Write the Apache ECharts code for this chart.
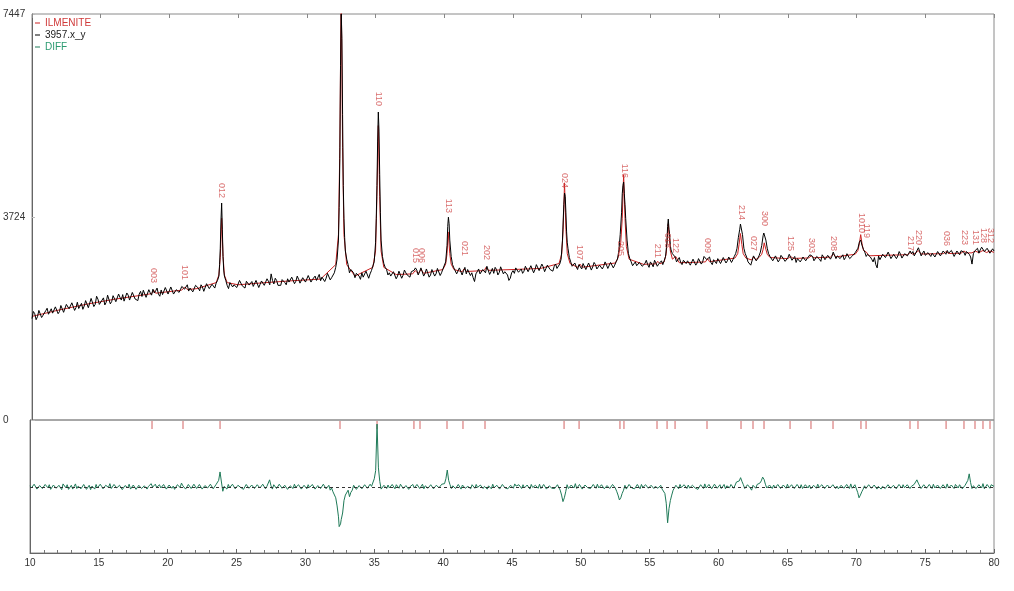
<!DOCTYPE html>
<html><head><meta charset="utf-8">
<script src="https://cdn.jsdelivr.net/npm/echarts/dist/echarts.min.js"></script>
<style>html,body{margin:0;padding:0;background:#fff}#c{width:1014px;height:591px}</style>
</head><body><div id="c"></div>
<script>
// ---------- DATA ----------
const xStart = 10, xStep = 0.2;   // sampling grid of the scan (2-theta); mid values sit halfway between
const obsY = [
1860,1950,1895,1985,1920,2005,1940,2040,1975,2050,
1990,2085,2010,2100,2035,2130,2060,2045,2140,2090,
2170,2090,2200,2120,2215,2145,2240,2160,2255,2175,
2270,2190,2250,2300,2215,2290,2235,2320,2255,2310,
2265,2345,2280,2335,2400,2370,2310,2385,2325,2395,
2330,2410,2345,2420,2390,2460,2430,2365,2445,2380,
2455,2370,2440,2395,2470,2385,2460,2510,2640,3980,
2640,2470,2520,2440,2505,2450,2530,2470,2545,2475,
2540,2465,2525,2490,2560,2500,2545,2680,2495,2560,
2505,2575,2520,2590,2535,2610,2545,2580,2520,2600,
2560,2625,2575,2640,2590,2555,2650,2600,2665,2610,
2700,2950,4800,5600,3100,2850,2760,2700,2690,2640,
2700,2640,2710,2680,2760,3250,5649,3300,2870,2760,
2700,2610,2690,2640,2720,2655,2700,2630,2720,2745,
2750,2720,2765,2690,2735,2660,2725,2680,2750,2700,
2780,3200,3300,2850,2760,2700,2760,2740,2680,2745,
2700,2540,2720,2680,2760,2700,2790,2720,2690,2760,
2705,2780,2720,2660,2600,2740,2790,2710,2770,2730,
2800,2740,2815,2760,2830,2745,2810,2780,2850,2790,
2820,2780,2860,3300,4100,3150,2900,2840,2810,2850,
2770,2840,2795,2860,2810,2850,2790,2870,2820,2845,
2800,2870,2840,2950,3400,4300,3700,3050,2900,2860,
2830,2890,2820,2870,2850,2900,2810,2880,2860,2920,
2920,3250,3400,3050,2990,2940,2890,2930,2870,2910,
2860,2930,2880,2950,2900,2980,2960,2890,2940,2870,
2950,2890,2960,2920,2975,2940,3050,3350,3560,3150,
2990,2930,2860,2990,2960,3080,3380,3300,3050,2970,
2920,2985,2940,2990,2910,2975,3010,2950,2890,2970,
2940,3010,2960,3030,3000,2950,3020,2910,2990,2960,
3020,3000,3060,3010,2960,3030,2980,3040,2970,3030,
3080,3260,3200,3080,3040,2990,2900,2850,3010,2960,
3060,3000,3050,2990,3070,3010,3040,2985,3080,3060,
3050,3010,3110,3150,3060,3020,3070,3000,3055,3020,
3080,3030,3095,3110,3040,3085,3020,3070,3105,3080,
3090,3040,2860,3100,3150,3120,3160,3100,3130,3080,
3100];
const obsMid = [
1990,1840,2010,1880,1890,2050,1930,1960,2075,1950,
2100,1975,2120,2040,2150,2010,2160,2070,2030,2190,
2060,2230,2080,2270,2120,2200,2110,2290,2130,2280,
2170,2310,2200,2180,2330,2200,2340,2220,2190,2360,
2380,2250,2390,2290,2330,2420,2270,2300,2430,2310,
2440,2310,2390,2340,2450,2400,2480,2420,2350,2470,
2420,2480,2360,2500,2410,2490,2420,2560,3150,3000,
2560,2410,2550,2480,2430,2560,2460,2420,2570,2510,
2450,2560,2430,2550,2470,2590,2480,2560,2600,2470,
2470,2600,2480,2530,2620,2500,2640,2510,2610,2530,
2650,2530,2610,2560,2670,2620,2540,2690,2570,2640,
2800,3300,7447,3700,2950,2700,2790,2610,2720,2580,
2620,2730,2600,2740,2900,4300,4500,3000,2800,2660,
2640,2720,2590,2730,2600,2750,2660,2620,2690,2790,
2660,2790,2640,2770,2620,2760,2640,2780,2650,2770,
2900,3720,3000,2790,2680,2790,2660,2800,2760,2650,
2610,2680,2770,2650,2740,2820,2670,2780,2800,2660,
2810,2680,2750,2560,2700,2690,2820,2740,2690,2820,
2720,2830,2700,2850,2740,2860,2720,2840,2760,2730,
2860,2750,2950,3950,3450,2980,2820,2880,2760,2880,
2870,2760,2880,2750,2890,2770,2840,2770,2900,2780,
2890,2790,2900,3100,3800,4150,3300,2960,2830,2900,
2800,2910,2790,2930,2800,2860,2930,2820,2890,2850,
3000,3686,3120,3020,2900,2980,2850,2960,2920,2840,
2950,2840,2960,2860,3000,2940,2990,2850,2920,2960,
2870,2980,2880,2990,2890,3000,3150,3500,3400,3050,
2900,2840,3010,2920,3010,3200,3420,3150,3000,2920,
3010,2900,3020,2950,2890,3040,2930,3000,2960,2900,
2990,2920,2990,3040,2920,3000,2950,3030,2940,3020,
2950,3080,2960,3040,2990,2940,3050,2960,3010,3070,
3150,3301,3130,3000,3060,2950,2980,2790,2940,3040,
2980,3080,2960,3040,2960,3090,2970,3050,3010,3100,
3090,3040,3160,3010,3100,2990,3090,3060,2990,3090,
3010,3100,3040,3060,3110,3000,3100,3030,3120,3020,
3110,2990,3050,3080,3060,3170,3090,3150,3060,3140];
const obsPeaks = [[23.65,2850],[23.75,3650],[23.85,3500],[23.95,2750],
[32.35,3900],[32.45,6500],[32.55,7000],[32.65,4300],[32.75,3350],
[35.05,3700],[35.15,5100],[35.25,5300],[35.35,3800],[40.25,3550],[40.35,3600],
[48.65,3650],[48.75,4163],[48.85,3800],[48.95,3250],[52.95,4150],[53.05,4365],[53.15,3950],
[56.25,3550],[56.35,3500],[56.45,3200],[61.55,3595],[63.25,3430]];
const calcPts = [
[10,1900],[12,2020],[14,2125],[16,2215],[18,2290],[18.7,2318],[18.86,2380],[19.0,2326],[20,2355],[20.9,2383],[21.11,2440],[21.3,2392],[22,2410],
[23.4,2520],[23.6,2660],[23.7,2980],[23.8,3700],[23.9,3000],[24.0,2660],[24.2,2520],[25,2480],[27,2520],[29,2555],[31,2585],
[32.1,2850],[32.3,3400],[32.4,5000],[32.5,8000],[32.6,5000],[32.7,3400],[32.9,2850],[33.5,2640],
[34.8,2800],[35.0,3100],[35.1,4100],[35.2,5400],[35.3,4100],[35.4,3100],[35.6,2800],[36.5,2668],
[37.7,2680],[37.88,2740],[38.1,2688],[38.32,2760],[38.5,2690],
[39.9,2760],[40.1,2860],[40.2,3050],[40.28,3450],[40.4,3050],[40.5,2860],[40.7,2760],
[41.3,2720],[41.44,2770],[41.6,2724],[42.9,2740],[43.04,2800],[43.2,2745],[45,2760],[47,2780],
[48.35,2870],[48.55,3050],[48.65,3500],[48.75,4350],[48.85,3500],[48.95,3050],[49.15,2870],
[49.7,2800],[49.87,2860],[50.05,2802],
[52.45,2880],[52.65,2980],[52.84,3250],[52.95,3700],[53.05,4500],[53.15,3700],[53.25,3180],[53.45,2950],
[54.5,2855],[55.4,2864],[55.53,2910],[55.7,2866],[56.0,2900],[56.15,3050],[56.3,3600],[56.45,3100],[56.6,2950],[56.84,3000],[57.1,2885],
[58,2890],[59.0,2900],[59.16,2960],[59.3,2903],
[61.15,2970],[61.35,3050],[61.45,3220],[61.55,3420],[61.65,3220],[61.75,3050],[61.95,2970],
[62.35,2936],[62.5,2990],[62.65,2940],[62.9,2980],[63.1,3040],[63.2,3130],[63.28,3250],[63.4,3130],[63.5,3040],[63.7,2980],
[65.0,2960],[65.19,3000],[65.4,2964],[66.5,2972],[66.71,3010],[66.9,2975],[68.1,2988],[68.31,3040],[68.5,2992],
[69.9,3040],[70.1,3110],[70.2,3230],[70.3,3400],[70.4,3230],[70.5,3110],[70.71,3080],[70.9,3012],
[72,3020],[73.7,3032],[73.9,3070],[74.1,3040],[74.3,3060],[74.48,3110],[74.7,3045],
[76.3,3050],[76.52,3090],[76.7,3054],[77.6,3060],[77.82,3100],[78.0,3064],[78.4,3066],[78.62,3100],[78.9,3070],
[79.2,3110],[79.45,3072],[79.71,3100],[80,3075]];
const diffY = [
20,-35,45,-10,30,-50,15,40,-25,10,
-40,25,55,-15,-45,30,5,-30,50,-20,
35,-10,-50,20,45,-30,10,-40,25,60,
-15,40,-35,15,-55,30,50,-20,5,-40,
25,-45,35,10,60,-25,-10,40,-30,20,
-50,30,15,-20,45,70,10,-35,25,-15,
40,-25,20,-45,35,-10,30,-30,15,275,
-80,20,45,-30,15,-50,35,5,-20,40,
-10,55,-35,25,-15,30,10,130,-40,20,
-30,45,-5,35,-45,15,50,-20,25,-35,
10,40,-25,30,-50,20,-15,45,-10,-60,
-90,-200,-550,-600,-250,-120,-180,-60,20,-30,
30,-15,45,-20,10,150,1155,100,-20,25,
35,-30,10,40,-25,15,-40,30,5,45,
-20,35,10,-35,40,-10,25,-45,20,15,
30,150,120,-30,40,-20,15,35,-25,10,
-35,20,45,-15,30,10,-40,25,50,-10,
20,-30,35,5,-45,25,55,-20,15,40,
-25,10,45,-35,20,50,-15,30,-40,25,
10,-30,35,-150,-200,40,-20,25,60,-15,
30,-25,45,10,-35,20,50,-10,35,-20,
15,-40,25,-80,-240,-120,30,-25,40,10,
-30,25,45,-15,20,-40,35,10,-25,30,
-60,-300,-400,-150,-40,25,45,-20,10,35,
-25,40,15,-35,30,55,-15,20,-40,25,
10,-30,45,20,-15,35,-40,60,170,40,
-20,30,-60,15,45,70,180,50,-25,20,
35,-15,40,-30,10,50,-20,25,-35,15,
40,-25,10,35,-45,20,50,-15,30,-10,
25,-35,45,15,-20,40,-30,10,55,-25,
30,-200,-90,20,-35,45,-15,25,10,-40,
35,-20,50,-10,25,-45,15,40,-25,20,
10,45,130,60,-20,35,-30,15,50,-15,
25,-40,30,55,-25,10,45,-20,35,-10,
20,240,-30,45,-15,30,60,-25,15,40,
10];
const diffMid = [
-20,50,-40,25,-30,45,-15,-45,35,-25,
30,-50,20,40,-25,-40,55,15,-35,45,
-45,30,15,-40,-20,50,-35,30,-10,-30,
45,-20,30,-50,25,-15,-40,35,-45,30,
-30,20,-40,45,-5,50,-35,-20,45,-40,
35,-25,-45,40,-10,20,-40,45,-30,50,
-30,45,-40,25,-20,50,-35,40,120,90,
10,-40,-15,50,-35,30,-10,-45,45,-25,
35,-30,40,-20,50,-35,25,20,40,-30,
50,-25,30,-45,20,-30,-10,40,-40,30,
-35,-10,45,-40,25,-30,50,-35,30,-20,
-60,-350,-700,-480,-150,-60,-100,30,-45,25,
-35,40,-25,50,40,300,350,-40,30,-30,
-20,45,-35,20,50,-30,25,-45,40,-20,
45,-30,50,20,-25,40,-35,30,-15,50,
60,310,40,20,-30,45,-40,25,-15,40,
40,-25,-10,35,-30,45,20,-35,-15,30,
-40,45,-20,-35,30,-25,15,40,-30,-20,
35,-40,-10,30,-25,-30,45,-40,20,-25,
-30,40,-60,-270,-90,-30,35,-20,-30,45,
-40,35,-15,-30,45,-25,-20,40,-35,25,
-30,45,-20,-150,-200,-60,-40,45,-20,-35,
45,-35,-10,40,-25,30,-30,45,-15,-40,
-120,-660,-250,-60,30,-35,-10,40,-30,-20,
30,-20,-45,40,-30,-20,45,-35,50,-25,
40,-15,-35,30,45,-25,90,110,100,-30,
40,-20,30,-25,20,110,140,-20,35,-30,
-20,45,-30,35,-25,-20,40,-30,45,-25,
-30,40,-20,-35,30,-25,-10,40,-30,35,
-20,40,-30,-35,30,-25,45,-30,-25,40,
-100,-150,-40,-30,40,-25,35,-40,30,10,
-30,40,-25,30,-35,45,-20,-15,40,-30,
30,80,70,-30,40,-25,45,-30,-20,35,
-30,40,-25,-20,35,-30,20,40,-35,30,
120,80,20,-30,40,-20,-35,45,-25,30];
const diffPeaks = [[32.45,-730],[32.55,-680]];
const reflPos = [18.86,21.11,23.80,32.51,35.20,37.88,38.32,40.28,41.44,43.04,48.78,49.87,52.84,53.13,55.53,56.26,56.84,59.16,61.63,62.50,63.30,65.19,66.71,68.31,70.34,70.71,73.90,74.48,76.52,77.82,78.62,79.20,79.71];
const reflHkl = ['003','101','012','104','110','015','006','113','021','202','024','107','205','116','211','018','122','009','214','027','300','125','303','208','1010','119','217','220','036','223','131','128','312'];
const labelAt = [2476,2531,4035,null,5722,2843,2843,3760,2971,2898,4218,2898,2971,4402,2934,3118,3026,3026,3631,3063,3521,3063,3026,3063,3393,3301,3063,3173,3154,3173,3173,3210,3210];
const seriesNames = ['ILMENITE','3957.x_y','DIFF'];
const yMax = 7447;

// ---------- BUILD ----------
function scanPts(vals, mids, extra){
  const a = vals.map((v,i)=>[+(xStart + i*xStep).toFixed(2), v]);
  const b = mids.map((v,i)=>[+(xStart + xStep/2 + i*xStep).toFixed(2), v]);
  return a.concat(b, extra).sort((p,q)=>p[0]-q[0]);
}
const obsPts = scanPts(obsY, obsMid, obsPeaks);
const diffPts = scanPts(diffY, diffMid, diffPeaks);
const labelPts = [];
reflPos.forEach((p,i)=>{ if(labelAt[i]!=null) labelPts.push([p,labelAt[i],reflHkl[i]]); });
const tickPts = reflPos.map(p=>[p,0.5]);

const FONT = '"Liberation Sans", Arial, sans-serif';
const chart = echarts.init(document.getElementById('c'));
chart.setOption({
  animation:false,
  backgroundColor:'#fff',
  legend:{
    orient:'vertical', left:30, top:13, itemGap:2, itemWidth:5, itemHeight:1, icon:'rect',
    textStyle:{fontSize:10, fontFamily:FONT},
    data:[{name:seriesNames[0], textStyle:{color:'#d03a3a'}},
          {name:seriesNames[1], textStyle:{color:'#222'}},
          {name:seriesNames[2], textStyle:{color:'#2a9a70'}}]
  },
  grid:[
    {left:30, right:20, top:14, height:406, show:true, borderColor:'#8a8a8a', borderWidth:1},
    {left:30, right:20, top:421, height:8},
    {left:30, right:20, top:420, height:133, show:true, borderColor:'#8a8a8a', borderWidth:1}
  ],
  xAxis:[
    {gridIndex:0, type:'value', min:10, max:80, interval:5, position:'top',
     axisLine:{show:false, onZero:false}, axisTick:{show:true, inside:true, length:4, lineStyle:{color:'#888'}},
     axisLabel:{show:false}, splitLine:{show:false}},
    {gridIndex:1, type:'value', min:10, max:80, show:false},
    {gridIndex:2, type:'value', min:10, max:80, interval:5, position:'bottom',
     axisLine:{show:true, onZero:false, lineStyle:{color:'#666'}},
     axisTick:{show:true, inside:true, length:4, lineStyle:{color:'#666'}},
     minorTick:{show:true, splitNumber:5, length:3, lineStyle:{color:'#777'}},
     axisLabel:{color:'#333', fontSize:10, fontFamily:FONT, margin:5},
     splitLine:{show:false}}
  ],
  yAxis:[
    {gridIndex:0, type:'value', min:0, max:yMax, interval:yMax/2,
     axisLine:{show:true, onZero:false, lineStyle:{color:'#666'}},
     axisTick:{show:true, inside:true, length:3, lineStyle:{color:'#bbb'}},
     axisLabel:{align:'left', margin:29, fontSize:10, color:'#333', fontFamily:FONT,
                formatter:v=>String(Math.round(v))},
     splitLine:{show:false}},
    {gridIndex:1, type:'value', min:0, max:1, show:false},
    {gridIndex:2, type:'value', min:-1215, max:1230,
     axisLine:{show:true, onZero:false, lineStyle:{color:'#666'}}, axisTick:{show:false},
     axisLabel:{show:false}, splitLine:{show:false}}
  ],
  series:[
    {name:seriesNames[0], type:'line', xAxisIndex:0, yAxisIndex:0, data:calcPts,
     showSymbol:false, color:'#cc2222', lineStyle:{width:1}, z:2},
    {name:seriesNames[1], type:'line', xAxisIndex:0, yAxisIndex:0, data:obsPts,
     showSymbol:false, color:'#000', lineStyle:{width:1}, z:3},
    {type:'scatter', xAxisIndex:0, yAxisIndex:0, data:labelPts, symbolSize:0, silent:true, z:4,
     label:{show:true, position:'top', distance:2, rotate:-90, align:'right', verticalAlign:'middle',
            color:'#d04848', fontSize:9, fontFamily:FONT, formatter:p=>p.data[2]}},
    {type:'scatter', xAxisIndex:1, yAxisIndex:1, data:tickPts, symbol:'rect', symbolSize:[1,8],
     color:'#c83c3c', silent:true},
    {name:seriesNames[2], type:'line', xAxisIndex:2, yAxisIndex:2, data:diffPts,
     showSymbol:false, color:'#1f7a58', lineStyle:{width:1}, z:3,
     markLine:{silent:true, symbol:'none', label:{show:false},
               lineStyle:{type:[3,3], color:'#333', width:1}, data:[{yAxis:0}]}}
  ]
});
</script></body></html>
